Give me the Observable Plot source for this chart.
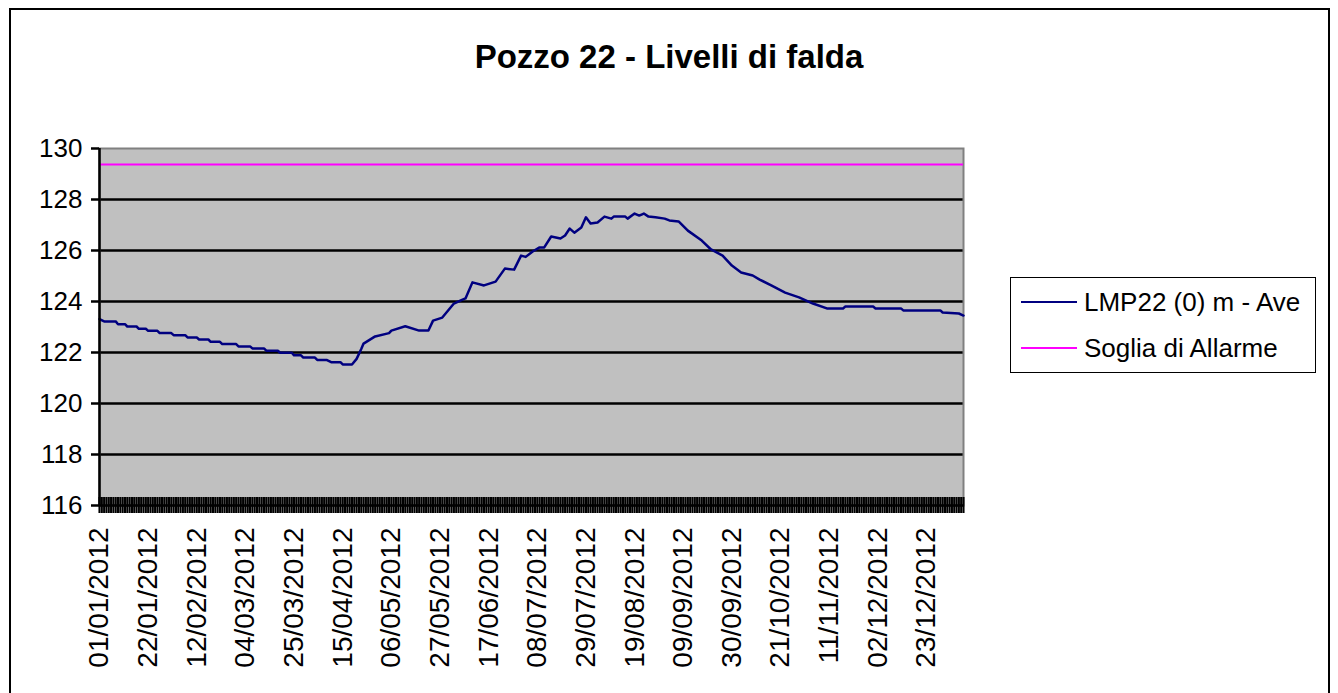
<!DOCTYPE html>
<html><head><meta charset="utf-8">
<script src="https://cdn.jsdelivr.net/npm/d3@7"></script>
<script src="https://cdn.jsdelivr.net/npm/@observablehq/plot@0.6"></script>
<style>
html,body{margin:0;padding:0;overflow:hidden;background:#fff;}
#wrap{position:relative;width:1338px;height:693px;font-family:"Liberation Sans",Arial,sans-serif;color:#000;}
#frame{position:absolute;left:9px;top:8px;width:1321px;height:720px;border:2px solid #000;box-sizing:border-box;}
#title{position:absolute;left:0;width:1338px;top:38px;text-align:center;font-weight:bold;font-size:33px;line-height:38px;}
#chart{position:absolute;left:0;top:0;}
#legend{position:absolute;left:1010px;top:277px;width:306px;height:96px;border:1.5px solid #000;box-sizing:border-box;background:#fff;}
.item{position:absolute;left:10px;height:30px;display:flex;align-items:center;font-size:26px;white-space:nowrap;}
.swatch{width:56px;height:2px;margin-right:7px;}
</style></head>
<body><div id="wrap"><div id="frame"></div><div id="title"></div><div id="chart"></div><div id="legend"></div></div>
<script>
const title = "Pozzo 22 - Livelli di falda";
const seriesNames = ["LMP22 (0) m - Ave", "Soglia di Allarme"];
const seriesColors = ["#000080", "#ff00ff"];
const threshold = 129.37;
const yTicks = [116, 118, 120, 122, 124, 126, 128, 130];
const xTickLabels = ["01/01/2012","22/01/2012","12/02/2012","04/03/2012","25/03/2012","15/04/2012","06/05/2012","27/05/2012","17/06/2012","08/07/2012","29/07/2012","19/08/2012","09/09/2012","30/09/2012","21/10/2012","11/11/2012","02/12/2012","23/12/2012"];
const firstDate = "2012-01-01";
const lastDate = "2013-01-08";
const dates = ["2012-01-01","2012-01-03","2012-01-08","2012-01-09","2012-01-12","2012-01-13","2012-01-17","2012-01-18","2012-01-21","2012-01-22","2012-01-26","2012-01-27","2012-02-01","2012-02-02","2012-02-07","2012-02-08","2012-02-12","2012-02-13","2012-02-17","2012-02-18","2012-02-22","2012-02-23","2012-02-29","2012-03-01","2012-03-06","2012-03-07","2012-03-12","2012-03-13","2012-03-18","2012-03-19","2012-03-24","2012-03-25","2012-03-28","2012-03-29","2012-04-03","2012-04-04","2012-04-08","2012-04-10","2012-04-14","2012-04-15","2012-04-19","2012-04-21","2012-04-23","2012-04-24","2012-04-29","2012-05-05","2012-05-06","2012-05-12","2012-05-18","2012-05-22","2012-05-24","2012-05-28","2012-06-02","2012-06-05","2012-06-07","2012-06-10","2012-06-15","2012-06-20","2012-06-24","2012-06-28","2012-07-01","2012-07-03","2012-07-06","2012-07-09","2012-07-11","2012-07-14","2012-07-18","2012-07-20","2012-07-22","2012-07-24","2012-07-27","2012-07-29","2012-07-31","2012-08-03","2012-08-06","2012-08-09","2012-08-10","2012-08-15","2012-08-16","2012-08-19","2012-08-21","2012-08-23","2012-08-25","2012-08-28","2012-09-01","2012-09-03","2012-09-07","2012-09-11","2012-09-17","2012-09-21","2012-09-26","2012-09-30","2012-10-04","2012-10-09","2012-10-12","2012-10-17","2012-10-23","2012-10-29","2012-11-04","2012-11-10","2012-11-17","2012-11-18","2012-11-30","2012-12-01","2012-12-12","2012-12-13","2012-12-29","2012-12-30","2013-01-06","2013-01-08"];
const levels = [123.31,123.22,123.22,123.11,123.11,123.02,123.02,122.93,122.93,122.85,122.85,122.76,122.76,122.68,122.68,122.59,122.59,122.51,122.51,122.42,122.42,122.33,122.33,122.24,122.24,122.16,122.16,122.07,122.07,121.99,121.99,121.89,121.89,121.80,121.80,121.71,121.71,121.62,121.62,121.53,121.53,121.75,122.14,122.35,122.63,122.76,122.86,123.03,122.86,122.86,123.25,123.37,123.92,124.04,124.12,124.75,124.63,124.78,125.29,125.25,125.80,125.75,125.96,126.12,126.12,126.55,126.47,126.59,126.86,126.70,126.90,127.30,127.06,127.10,127.33,127.25,127.33,127.33,127.25,127.45,127.37,127.45,127.33,127.30,127.25,127.18,127.14,126.78,126.39,126.04,125.80,125.41,125.14,125.02,124.86,124.63,124.35,124.16,123.92,123.73,123.73,123.80,123.80,123.73,123.73,123.65,123.65,123.57,123.53,123.45];

const parseISO = d3.utcParse("%Y-%m-%d");
const parseIT = d3.utcParse("%d/%m/%Y");
const fmtIT = d3.utcFormat("%d/%m/%Y");
const data = dates.map((d, i) => ({date: parseISO(d), level: levels[i]}));
const x0 = parseISO(firstDate), x1 = parseISO(lastDate);
const dayTicks = d3.utcDay.range(x0, d3.utcDay.offset(x1, 1));
const labelDates = xTickLabels.map(parseIT);

const W = 1000, H = 693, mT = 148, mB = 188, mL = 99, mR = 37;
const plotH = H - mT - mB;

const chart = Plot.plot({
  width: W, height: H,
  marginTop: mT, marginBottom: mB, marginLeft: mL, marginRight: mR,
  style: {background: "transparent", fontFamily: "Liberation Sans, Arial, sans-serif", color: "#000", overflow: "visible"},
  x: {type: "utc", domain: [x0, x1]},
  y: {domain: [116, 130]},
  marks: [
    Plot.frame({fill: "#c0c0c0"}),
    Plot.gridY(yTicks.filter(t => t > 116 && t < 130), {stroke: "#000", strokeOpacity: 1, strokeWidth: 2.5}),
    Plot.frame({stroke: "#808080", strokeWidth: 2}),
    Plot.ruleY([threshold], {stroke: seriesColors[1], strokeWidth: 2}),
    Plot.lineY(data, {x: "date", y: "level", stroke: seriesColors[0], strokeWidth: 2.5}),
    Plot.tickX(dayTicks, {x: d => d, stroke: "#000", strokeWidth: 2.1, insetTop: plotH - 16, dy: 8}),
    Plot.ruleX([x0], {stroke: "#000", strokeWidth: 2.5}),
    Plot.ruleY([116], {stroke: "#000", strokeWidth: 2.5}),
    Plot.axisY(yTicks, {tickSize: 8, tickPadding: 9, fontSize: 26, stroke: "#000", strokeWidth: 2.5, label: null}),
    Plot.axisX(labelDates, {tickSize: 0, tickPadding: 22, tickRotate: -90, fontSize: 28, tickFormat: fmtIT, label: null})
  ]
});
document.getElementById("chart").appendChild(chart);
document.getElementById("title").textContent = title;

const legend = document.getElementById("legend");
seriesNames.forEach((name, i) => {
  const it = document.createElement("div");
  it.className = "item";
  it.style.top = (9 + i * 46) + "px";
  const sw = document.createElement("div");
  sw.className = "swatch";
  sw.style.background = seriesColors[i];
  const tx = document.createElement("span");
  tx.textContent = name;
  it.appendChild(sw); it.appendChild(tx);
  legend.appendChild(it);
});
</script></body></html>
